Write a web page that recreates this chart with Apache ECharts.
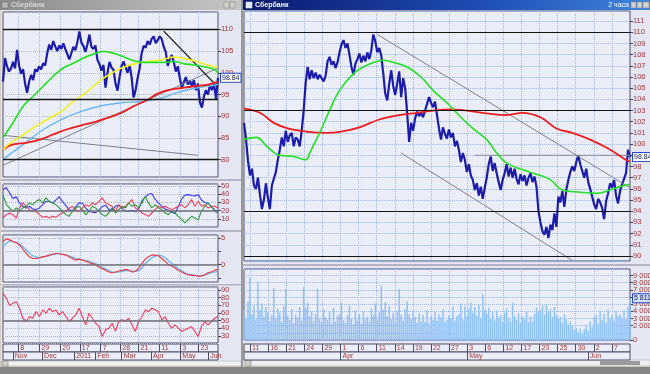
<!DOCTYPE html>
<html><head><meta charset="utf-8">
<script src="https://cdn.jsdelivr.net/npm/echarts@6.0.0/dist/echarts.min.js"></script>
<style>html,body{margin:0;padding:0;background:#d4d0c8;overflow:hidden}#c{width:650px;height:374px}</style>
</head><body><div id="c"></div><script>
// ---------------- DATA ----------------
const holidays = ['2010-11-04','2011-01-03','2011-01-04','2011-01-05','2011-01-06','2011-01-07','2011-01-10','2011-02-23','2011-03-07','2011-03-08','2011-05-02','2011-05-09'];
// Left window (daily)
const leftStart = '2010-10-21', leftEnd = '2011-06-10';
const leftTickDates = ['2010-11-08','2010-11-29','2010-12-20','2011-01-17','2011-02-07','2011-02-28','2011-03-21','2011-04-11','2011-05-03','2011-05-23'];
const leftTickLabels = ['8','29','20','17','7','28','21','11','3','23'];
const leftMonthDates = ['2010-11-01','2010-12-01','2011-01-11','2011-02-01','2011-03-01','2011-04-01','2011-05-03','2011-06-01'];
const leftMonthLabels = ['Nov','Dec','2011','Feb','Mar','Apr','May','Jun'];
const leftPrice = [98.0,103.4,101.5,100.3,101.0,102.5,101.0,105.3,101.7,99.8,
 100.8,97.5,95.4,98.0,99.5,98.3,100.8,100.3,101.5,100.8,
 102.2,101.7,104.5,106.5,105.3,107.3,106.1,105.0,106.3,105.5,
 106.8,105.5,104.3,103.1,104.5,106.0,105.2,107.0,109.5,107.0,
 106.2,104.8,106.5,108.8,106.0,105.5,106.3,103.0,102.0,100.5,
 101.8,96.6,100.0,102.5,101.2,100.7,97.5,95.9,99.0,101.5,
 102.6,101.3,100.0,101.8,99.0,94.3,96.0,98.8,101.0,104.5,
 106.2,105.8,107.3,106.5,107.8,108.4,106.8,107.5,108.4,107.8,
 106.0,104.8,101.6,103.2,104.1,102.5,100.3,101.5,98.8,96.6,
 97.8,99.0,97.3,98.2,97.0,98.3,96.0,97.5,93.2,92.0,
 94.6,96.0,95.0,97.2,96.0,97.5,94.0,98.84];
const leftGreenMA = [[0,85.1],[5,88.5],[10,92.3],[15,94.6],[20,96.9],[25,99.2],[30,101.1],[35,102.2],[40,103.4],[45,104.3],[50,104.9],[55,104.5],[60,103.7],[65,102.8],[70,102.4],[75,102.4],[80,102.4],[85,102.6],[90,102.1],[95,101.8],[100,101.4],[105,100.8],[107,99.9]];
const leftYellowMA = [[0,82.4],[4,83.9],[9,85.4],[15,87.3],[22,89.2],[29,91.1],[35,93.4],[42,95.7],[49,98.4],[54,99.9],[59,101.1],[65,102.0],[72,102.6],[79,103.0],[85,103.6],[92,103.1],[99,102.2],[105,101.4],[107,101.2]];
const leftRedMA = [[0,82.4],[5,83.5],[12,83.9],[19,84.7],[25,85.8],[32,87.0],[39,87.9],[45,88.6],[52,89.6],[59,90.8],[65,92.3],[72,93.8],[77,95.2],[82,96.0],[89,96.5],[95,96.9],[102,97.3],[107,98.0]];
const leftBlueMA = [[0,80.1],[9,83.1],[19,86.6],[29,89.2],[39,91.1],[49,92.4],[59,93.1],[69,93.4],[79,94.2],[85,95.2],[92,96.1],[99,96.7],[107,97.3]];
const leftTrendUp = [[0,78.7],[107,101.1]];
const leftTrendFlat = [[0,85.6],[97,81.0]];
const leftTrendDown = [[80,109.6],[107,96.7]];
const leftLevels = [110, 94, 80];
const dmiBlue = [45.7,47.8,41.6,34.7,37.0,29.4,25.3,23.3,25.3,22.0,21.2,23.3,27.3,31.4,31.4,29.4,33.0,37.0,31.0,26.0,21.0,20.0,24.5,29.5,29.0,23.0,19.5,18.0,17.5,20.5,25.0,26.5,21.5,20.5,25.5,26.5,22.5,19.5,19.0,20.5,18.5,22.0,32.0,36.5,40.0,41.0,34.0,29.5,25.5,22.0,20.5,18.0,16.5,25.0,34.0,39.0,39.5,38.5,38.0,39.5,33.0,30.0,29.0,24.5,20.5,19.2];
const dmiRed = [11,15.1,17.1,15.1,11,23.3,29.4,25.3,21.2,19.2,19.2,15.1,11.8,13,11,13,11.8,15.1,17.1,19.2,23.3,25.3,21.2,19.2,23.3,27.3,25.3,29.4,27.3,31.4,35.5,29.4,27.3,25.3,19.2,27.3,23.3,25.3,29.4,33.5,23.3,21.2,17.1,15.1,13,17.1,21.2,25.3,23.3,25.3,23.3,21.2,23.3,25.3,27.3,23.3,27.3,33.5,25.3,31.4,25.3,27.3,23.3,25.3,25.3,23.3];
const dmiGreen = [39.6,27.3,23.3,19.2,23.3,19.2,23.3,25.3,29.4,27.3,31.4,33.5,29.4,35.5,31.4,29.4,27.3,23.3,19.2,15.1,13,19.2,23.3,25.3,21.2,15.1,19.2,25.3,23.3,19.2,15.1,13,17.1,23.3,17.1,21.2,25.3,23.3,29.4,25.3,27.3,23.3,29.4,37.6,29.4,23.3,27.3,23.3,21.2,17.1,15.1,19.2,17.1,13,9,4.9,9,13,11,9,19.2,25.3,29.4,25.3,19.2,17.1];
const macdRed = [4.36,4.87,4.68,4.36,4.17,3.72,2.95,2.1,1.47,1.15,1.15,1.28,1.47,1.6,1.8,2.0,2.1,2.05,1.92,1.8,1.47,1.15,0.83,1.03,0.83,0.64,0.38,0.19,0.0,-0.45,-0.77,-1.09,-1.41,-1.54,-1.41,-1.22,-1.09,-0.9,-1.09,-1.41,-1.28,-0.77,0.19,1.03,1.47,1.8,1.8,1.67,1.15,0.64,0.0,-0.26,-0.64,-1.09,-1.41,-1.73,-1.92,-2.05,-2.05,-2.18,-2.18,-1.92,-1.54,-1.41,-1.09,-0.9];
const macdBlue = [3.40,4.04,4.49,4.36,4.23,3.91,3.40,2.76,2.12,1.67,1.41,1.35,1.41,1.54,1.67,1.86,2.05,2.05,1.99,1.86,1.67,1.41,1.15,1.03,0.90,0.77,0.64,0.38,0.19,-0.13,-0.51,-0.83,-1.15,-1.41,-1.47,-1.41,-1.28,-1.15,-1.15,-1.22,-1.28,-1.15,-0.64,0.13,0.77,1.28,1.60,1.80,1.67,1.28,0.77,0.26,-0.26,-0.77,-1.15,-1.54,-1.79,-1.92,-2.05,-2.12,-2.12,-1.99,-1.79,-1.60,-1.41,-1.28];
const rsi = [85.7,79.1,69.6,72.6,74.8,66.1,53,48.7,55.2,53,61.7,55.2,63.9,59.6,66.1,61.7,63.9,57.4,61.7,55.2,48.7,53,57.4,66.1,55.2,44.3,59.6,53,46.5,42.2,29.1,37.8,40,46.5,35.7,48.7,50.9,48.7,53,44.3,35.7,48.7,55.2,63.9,61.7,66.1,63.9,61.7,50.9,55.2,46.5,40,44.3,40,35.7,37.8,40,42.2,35.7,29.1,42.2,48.7,44.3,48.7,53,55.2];

// Right window (2-hour bars, 3 sampled per trading day)
const rightStart = '2011-03-10', rightEnd = '2011-06-10';
const rightSlots = ['10:00','14:00','18:00'];
const rightTickDates = ['2011-03-11','2011-03-16','2011-03-21','2011-03-24','2011-03-29','2011-04-01','2011-04-06','2011-04-11','2011-04-14','2011-04-19','2011-04-22','2011-04-27','2011-05-03','2011-05-06','2011-05-12','2011-05-17','2011-05-20','2011-05-25','2011-05-30','2011-06-02','2011-06-07'];
const rightTickLabels = ['11','16','21','24','29','1','6','11','14','19','22','27','3','6','12','17','20','25','30','2','7'];
const rightMonthDates = ['2011-04-01','2011-05-03','2011-06-01'];
const rightMonthLabels = ['Apr','May','Jun'];
const rightPrice = [
 101.9,100.5,98.5, 97.2,97.8,96.3, 96.0,97.0,95.5, 94.2,95.0,96.5, 95.2,94.2,96.3,
 96.9,97.5,98.6, 99.5,100.6,99.8, 101.2,100.2,100.8, 101.0,99.8,100.6, 100.4,99.8,101.2,
 103.0,105.5,106.9, 105.8,106.6,105.9, 106.4,105.8,106.2, 105.9,105.6,106.1, 107.4,107.8,107.1,
 107.4,106.8,107.3, 108.2,108.9,109.3, 108.6,109.0,108.0, 106.9,106.2,107.2, 107.6,108.1,107.3,
 107.9,107.4,108.2, 107.6,108.4,109.8, 109.2,108.2,108.6, 107.9,106.3,104.5, 103.9,105.4,106.6,
 105.2,104.4,105.4, 106.5,104.2,105.9, 105.0,102.8,100.2, 101.9,101.2,102.3, 102.9,102.5,102.8,
 102.4,103.0,103.6, 104.2,103.7,103.3, 103.8,102.6,101.4, 100.4,101.5,100.9, 100.5,101.3,100.6,
 101.0,99.8,100.3, 99.5,98.4,99.2, 98.6,97.5,98.2, 97.2,96.8,95.9, 96.5,95.4,96.2,
 95.1,96.1,97.0, 98.2,98.9,97.6, 98.3,97.4,96.6, 95.9,96.8,97.4, 98.2,97.1,97.9,
 97.0,97.8,96.9, 96.4,97.3,96.7, 97.2,96.3,97.0, 97.4,96.6,97.1, 96.2,94.0,93.0,
 92.2,91.9,92.6, 91.6,92.8,92.3, 93.8,92.6,95.3, 94.8,95.8,94.4, 95.9,96.8,97.5,
 98.0,97.6,98.4, 99.0,98.2,97.6, 97.0,97.8,96.6, 96.0,95.3,94.6, 94.2,95.1,94.8,
 94.3,93.3,94.9, 95.6,96.5,96.1, 96.8,95.4,94.7, 95.8,96.4,96.9, 97.4,99.5,98.84];
const rightGreenMA = [[0,100.4],[6,100.6],[12,99.7],[18,99.0],[25,98.9],[31,98.6],[33,99.2],[38,101.0],[43,103.0],[48,104.8],[55,106.3],[60,106.9],[65,107.3],[70,107.5],[77,107.2],[82,106.9],[89,106.0],[95,104.8],[102,103.7],[109,102.4],[115,101.4],[122,100.4],[127,99.2],[132,98.3],[140,97.7],[149,97.2],[154,96.8],[160,95.9],[169,95.7],[177,95.6],[184,95.9],[189,96.2],[194,96.4]];
const rightRedMA = [[0,103.2],[8,102.8],[15,101.9],[22,101.4],[32,101.1],[42,101.0],[48,101.1],[58,101.5],[68,102.2],[78,102.6],[87,102.8],[95,103.0],[104,103.1],[120,102.8],[132,102.6],[140,102.8],[149,102.4],[157,101.4],[165,101.0],[174,100.4],[183,99.6],[191,98.7],[194,98.4]];
const rightChannelUpper = [[67,109.8],[194,96.1]];
const rightChannelLower = [[79,99.2],[165,89.6]];
const rightLevelLine = [[116,99.0],[194,99.0]];
const rightLevels = [110, 103, 94, 90];
const rightVolume = [ // thousands
 4200,3100,5400, 8800,3600,4800, 2900,8100,4200, 5100,3300,4600, 3900,2600,3500, 7200,3000,4400, 3800,2500,4700, 7100,3400,2800, 4300,2400,3600, 3100,4600,2700,
 7400,4500,5200, 3300,4000,2600, 3700,7100,3000, 2500,4300,3200, 2800,3900,2300, 4500,2600,3400, 3600,5200,2800, 2400,3500,4800, 3000,2200,4100, 2700,3600,2300,
 4000,2900,3300, 2600,4400,3500, 5100,2800,3900, 7600,4200,5300, 3300,4700,2900, 3800,2600,4000, 7100,3500,2700, 4300,5400,3600, 2900,4100,3200, 2400,3800,2600,
 3500,2500,4200, 2300,3300,2800, 3900,2700,3600, 3100,4300,2500, 2800,3400,3000, 4600,2700,3300, 3600,5100,2900, 4700,3300,4400, 5200,3800,4600, 3400,4900,3100,
 6400,4200,3700, 4500,3000,3900, 2700,4100,3200, 3500,2500,3800, 4400,3100,2600, 5200,3400,2800, 3700,2400,3300, 2900,4000,2500, 3300,2600,3600, 4500,3900,4200,
 4800,3600,5000, 3900,4300,3200, 4600,3500,3000, 3200,2400,3600, 2900,2200,2600, 2000,1400,1700, 1100,1600,900, 1500,2100,1300, 2600,1800,3200, 3500,2300,4100,
 2800,3700,2400, 4300,3000,3500, 2700,4100,3300, 3600,3000,4200, 2900,4600,5811];

// ---------------- BUILD ----------------
function tradingDays(start, end) {
  const out = []; const d = new Date(start + 'T00:00:00Z'); const e = new Date(end + 'T00:00:00Z');
  while (d <= e) { const wd = d.getUTCDay(); const s = d.toISOString().slice(0, 10);
    if (wd !== 0 && wd !== 6 && !holidays.includes(s)) out.push(s);
    d.setUTCDate(d.getUTCDate() + 1); }
  return out;
}
const leftDays = tradingDays(leftStart, leftEnd);
const rightDays = tradingDays(rightStart, rightEnd);
const rightBars = rightDays.flatMap(d => rightSlots.map(s => d + ' ' + s));
const mapOf = (keys, vals) => Object.fromEntries(keys.map((k, i) => [k, vals[i]]));
const leftTickMap = mapOf(leftTickDates, leftTickLabels), leftMonthMap = mapOf(leftMonthDates, leftMonthLabels);
const rightTickMap = mapOf(rightTickDates, rightTickLabels), rightMonthMap = mapOf(rightMonthDates, rightMonthLabels);
const fmtSpaces = v => String(Math.round(v)).replace(/\B(?=(\d{3})+(?!\d))/g, ' ');

const LBL = '#a0383a', FONT = 'Liberation Sans', GRIDC = '#a2b6e8', BORDER = '#4e4e66';
const grids = [
  [3, 12, 215, 165], [3, 184, 215, 43], [3, 235, 215, 47], [3, 287, 215, 56], [3, 344, 215, 8], [3, 352, 215, 8],
  [244, 11, 386, 250], [244, 269, 386, 71], [244, 344, 386, 8], [244, 352, 386, 8]
].map(g => ({left: g[0], top: g[1], width: g[2], height: g[3], show: true, borderColor: BORDER, borderWidth: 1,
  backgroundColor: '#ebeef9', containLabel: false, outerBoundsMode: 'none'}));

function idxAxis(grid, n) { return {type: 'category', gridIndex: grid, data: Array.from({length: n}, (_, i) => i), boundaryGap: false, show: false}; }
function dateGridAxis(grid, days, map) {
  return {type: 'category', gridIndex: grid, position: 'top', data: days, boundaryGap: false,
    axisLine: {show: false}, axisTick: {show: false}, axisLabel: {show: false},
    splitLine: {show: true, interval: (i, v) => v in map, lineStyle: {color: GRIDC, type: 'dotted', width: 1}}};
}
function rowAxis(grid, days, map) {
  const f = (i, v) => v in map;
  return {type: 'category', gridIndex: grid, data: days, boundaryGap: false, axisLine: {show: false},
    axisTick: {show: true, inside: true, length: 8, interval: f, lineStyle: {color: BORDER}},
    axisLabel: {show: true, inside: true, margin: 0, interval: f, formatter: v => map[v], align: 'left', verticalAlign: 'bottom',
      padding: [0, 0, 0, 2], fontSize: 7, color: LBL, fontFamily: FONT},
    splitLine: {show: false}};
}
function yAx(grid, min, max, step, fmt, showMin) {
  return {type: 'value', gridIndex: grid, position: 'right', min, max, minInterval: step, maxInterval: step,
    axisLine: {show: false}, axisTick: {show: true, length: 3, lineStyle: {color: '#404050'}},
    axisLabel: {fontSize: 7.5, color: LBL, margin: 3, fontFamily: FONT, showMinLabel: !!showMin, showMaxLabel: false, formatter: fmt},
    splitLine: {show: true, lineStyle: {color: GRIDC, type: 'dotted', width: 1}}};
}
const hiddenY = g => ({type: 'value', gridIndex: g, show: false});

const xAxis = [
  idxAxis(0, leftPrice.length), dateGridAxis(0, leftDays, leftTickMap),
  idxAxis(1, dmiBlue.length), dateGridAxis(1, leftDays, leftTickMap),
  idxAxis(2, macdRed.length), dateGridAxis(2, leftDays, leftTickMap),
  idxAxis(3, rsi.length), dateGridAxis(3, leftDays, leftTickMap),
  rowAxis(4, leftDays, leftTickMap), rowAxis(5, leftDays, leftMonthMap),
  idxAxis(6, rightBars.length), dateGridAxis(6, rightDays, rightTickMap),
  idxAxis(7, rightBars.length), dateGridAxis(7, rightDays, rightTickMap),
  rowAxis(8, rightDays, rightTickMap), rowAxis(9, rightDays, rightMonthMap)
];
xAxis[12].data = rightBars; xAxis[10].data = rightBars;
const yAxis = [
  yAx(0, 76, 114, 5), yAx(1, 0, 52.5, 10), yAx(2, -3.3, 5.6, 2.5, v => Number.isInteger(v) ? String(v) : ''),
  yAx(3, 20.5, 94, 10), hiddenY(4), hiddenY(5),
  yAx(6, 89.55, 111.9, 1), yAx(7, 0, 9900, 1000, v => v === 0 ? '0' : fmtSpaces(v * 1000), true), hiddenY(8), hiddenY(9)
];

const ln = (x, y, data, color, width, extra) => Object.assign({type: 'line', xAxisIndex: x, yAxisIndex: y, data, symbol: 'none',
  lineStyle: {color, width}, silent: true, z: 4}, extra || {});
const levels = (vals, color, width) => ({silent: true, symbol: ['none', 'none'], label: {show: false},
  lineStyle: {color, width, type: 'solid'}, data: vals.map(v => ({yAxis: v}))});
const tag = {show: true, formatter: '{c}', distance: 3, fontSize: 7, fontFamily: FONT, color: '#101050',
  backgroundColor: '#ffffff', borderColor: '#2848c8', borderWidth: 1, padding: [1, 1, 0, 1]};

const series = [
  ln(0, 0, leftPrice, '#1c1caa', 2.2, {z: 3, markLine: levels(leftLevels, '#151515', 1.3), endLabel: tag}),
  ln(0, 0, leftTrendUp, '#7e7e86', 1), ln(0, 0, leftTrendFlat, '#7e7e86', 1), ln(0, 0, leftTrendDown, '#101010', 1.3),
  ln(0, 0, leftBlueMA, '#6ab8f0', 1.4, {smooth: 0.4}), ln(0, 0, leftRedMA, '#ee1c1c', 1.8, {smooth: 0.4}),
  ln(0, 0, leftYellowMA, '#f2f21a', 1.6, {smooth: 0.4}), ln(0, 0, leftGreenMA, '#22e022', 1.6, {smooth: 0.4}),
  ln(2, 1, dmiBlue, '#3a3af0', 1.1, {markLine: levels([20], '#707078', 1.5)}),
  ln(2, 1, dmiRed, '#e8405a', 1.1), ln(2, 1, dmiGreen, '#2e9a3a', 1.1),
  ln(4, 2, macdBlue, '#5cb4f4', 1.2, {markLine: levels([0], '#707078', 1.5)}),
  ln(4, 2, macdRed, '#ee3c44', 1.2),
  ln(6, 3, rsi, '#ee3c5a', 1.1, {markLine: levels([50], '#707078', 1.5)}),
  {type: 'bar', xAxisIndex: 12, yAxisIndex: 7, data: rightVolume, barWidth: '75%', silent: true,
    itemStyle: {color: '#8ec2f6'}, z: 2,
    markPoint: {symbol: 'rect', symbolSize: 0, silent: true,
      data: [{coord: [rightVolume.length - 1, rightVolume[rightVolume.length - 1]], value: rightVolume[rightVolume.length - 1]}],
      label: {show: true, position: 'right', distance: 3, formatter: p => fmtSpaces(p.value * 1000), fontSize: 7, fontFamily: FONT,
        color: '#101050', backgroundColor: '#cfe2fb', borderColor: '#2848c8', borderWidth: 1, padding: [1, 1, 0, 1]}}},
  ln(10, 6, rightPrice, '#1c1caa', 2.2, {z: 3, markLine: levels(rightLevels, '#151515', 1.2), endLabel: tag}),
  ln(10, 6, rightChannelUpper, '#7e7e86', 1), ln(10, 6, rightChannelLower, '#7e7e86', 1), ln(10, 6, rightLevelLine, '#8a8a92', 1),
  ln(10, 6, rightRedMA, '#ee1c1c', 1.8, {smooth: 0.4}), ln(10, 6, rightGreenMA, '#22e022', 1.6, {smooth: 0.4})
];

const G = echarts.graphic;
const chrome = [
  {type: 'rect', shape: {x: 0, y: 0, width: 650, height: 374}, style: {fill: '#d4d0c8'}, z: -10},
  {type: 'rect', shape: {x: 0, y: 367, width: 650, height: 7}, style: {fill: '#858585'}, z: -9},
  {type: 'rect', shape: {x: 1, y: 10, width: 240, height: 351}, style: {fill: '#e4e7f3'}, z: -9},
  {type: 'rect', shape: {x: 243, y: 10, width: 407, height: 350}, style: {fill: '#e4e7f3'}, z: -9},
  {type: 'rect', shape: {x: 241, y: 0, width: 2, height: 367}, style: {fill: '#9a9a9a'}, z: -9},
  {type: 'rect', shape: {x: 0, y: 0, width: 241, height: 10}, style: {fill: new G.LinearGradient(0, 0, 1, 0, [{offset: 0, color: '#8a8a8a'}, {offset: 1, color: '#c6c6c6'}])}, z: -9},
  {type: 'rect', shape: {x: 243, y: 0, width: 407, height: 10}, style: {fill: new G.LinearGradient(0, 0, 1, 0, [{offset: 0, color: '#0a1a6e'}, {offset: 0.6, color: '#1f4fb8'}, {offset: 1, color: '#3f86dc'}])}, z: -9},
  {type: 'rect', shape: {x: 2, y: 2, width: 6, height: 6}, style: {fill: '#b8b8b8', stroke: '#707070', lineWidth: 0.5}, z: -8},
  {type: 'text', x: 11, y: 1.5, style: {text: 'Сбербанк', fill: '#d8d8d8', font: 'bold 7px "Liberation Sans"'}, z: -8},
  {type: 'rect', shape: {x: 224, y: 2, width: 5, height: 6}, style: {fill: '#d4d0c8', stroke: '#808080', lineWidth: 0.5}, z: -8},
  {type: 'rect', shape: {x: 230, y: 2, width: 5, height: 6}, style: {fill: '#d4d0c8', stroke: '#808080', lineWidth: 0.5}, z: -8},
  {type: 'rect', shape: {x: 246, y: 2, width: 6, height: 6}, style: {fill: '#dfe6f5', stroke: '#ffffff', lineWidth: 0.5}, z: -8},
  {type: 'text', x: 255, y: 1.5, style: {text: 'Сбербанк', fill: '#ffffff', font: 'bold 7px "Liberation Sans"'}, z: -8},
  {type: 'text', x: 629, y: 1.5, style: {text: '2 часа', fill: '#ffffff', font: '7px "Liberation Sans"', align: 'right'}, z: -8},
  {type: 'rect', shape: {x: 631, y: 2, width: 5, height: 6}, style: {fill: '#d4d0c8', stroke: '#808080', lineWidth: 0.5}, z: -8},
  {type: 'rect', shape: {x: 637, y: 2, width: 5, height: 6}, style: {fill: '#d4d0c8', stroke: '#808080', lineWidth: 0.5}, z: -8},
  {type: 'rect', shape: {x: 643, y: 2, width: 6, height: 6}, style: {fill: '#d4d0c8', stroke: '#808080', lineWidth: 0.5}, z: -8},
  // panel splitters
  {type: 'rect', shape: {x: 1, y: 179, width: 240, height: 2}, style: {fill: '#b4b4c4'}, z: -8},
  {type: 'rect', shape: {x: 1, y: 230, width: 240, height: 2}, style: {fill: '#b4b4c4'}, z: -8},
  {type: 'rect', shape: {x: 1, y: 284, width: 240, height: 1.5}, style: {fill: '#b4b4c4'}, z: -8},
  {type: 'rect', shape: {x: 243, y: 264, width: 407, height: 2}, style: {fill: '#b4b4c4'}, z: -8},
  // scrollbars
  {type: 'rect', shape: {x: 1, y: 361, width: 240, height: 5}, style: {fill: '#f0f0f0', stroke: '#a0a0a0', lineWidth: 0.5}, z: -8},
  {type: 'rect', shape: {x: 2, y: 361, width: 6, height: 5}, style: {fill: '#d4d0c8', stroke: '#707070', lineWidth: 0.5}, z: -8},
  {type: 'rect', shape: {x: 243, y: 360, width: 407, height: 6}, style: {fill: '#f0f0f0', stroke: '#a0a0a0', lineWidth: 0.5}, z: -8},
  {type: 'rect', shape: {x: 245, y: 360, width: 6, height: 6}, style: {fill: '#d4d0c8', stroke: '#707070', lineWidth: 0.5}, z: -8},
  {type: 'rect', shape: {x: 600, y: 361, width: 40, height: 4}, style: {fill: '#9a9a9a'}, z: -8}
];

const chart = echarts.init(document.getElementById('c'), null, {renderer: 'canvas', width: 650, height: 374});
chart.setOption({animation: false, backgroundColor: '#d4d0c8', grid: grids, xAxis, yAxis, series, graphic: {elements: chrome}, tooltip: {show: false}});
</script></body></html>
